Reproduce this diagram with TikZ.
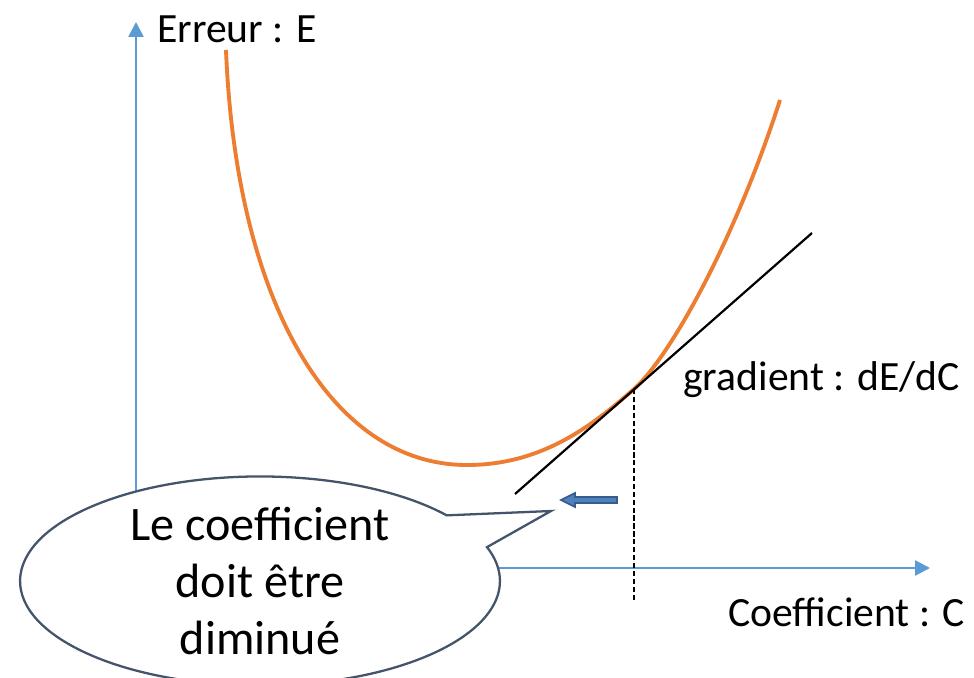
\documentclass[tikz,border=0pt]{standalone}
\usepackage{fontspec}
\setmainfont{Carlito}
\usepackage{tikz}
\usetikzlibrary{arrows.meta,positioning,shapes.callouts,calc}
\definecolor{axisblue}{RGB}{91,155,213}
\definecolor{curveorange}{RGB}{237,125,49}
\definecolor{slate}{RGB}{68,84,106}
\definecolor{arrowfill}{RGB}{79,129,189}
\definecolor{arrowline}{RGB}{56,93,138}

\begin{document}
\begin{tikzpicture}[
  x=0.02cm, y=-0.02cm,
  every node/.style={font=\fontsize{23.7}{28}\selectfont},
  axis/.style={draw=axisblue, line width=1.4pt, -{Triangle[length=8.5pt,width=8.5pt]}},
  label/.style={anchor=west, inner sep=0pt},
  bubble/.style={ellipse callout, draw=slate, line width=1.3pt, fill=white, align=center, inner sep=0pt,
    minimum width=9.6cm, minimum height=3.8cm, font=\fontsize{27.4}{32.5}\selectfont}
]
\useasboundingbox (0,0) rectangle (974,678);

% axes
\coordinate (o) at (136,568);
\coordinate (ytop) at (136,22);
\coordinate (xend) at (930,568);
\draw[axis] (o) -- (ytop);
\draw[axis] (o) -- (xend);
\node[label] (ylab) at (157,29) {Erreur : E};
\node[label] (xlab) at (728,612) {Coefficient : C};

% error curve
\coordinate (cstart) at (226,50);
\coordinate (cmin) at (467,465);
\coordinate (p) at (634,389);
\coordinate (cend) at (780,100);
\draw[curveorange, line width=2.2pt]
  (cstart) .. controls (236,300) and (330,465) .. (cmin)
           .. controls (540,465) and (590,428) .. (p)
           .. controls (670,357) and (735,240) .. (cend);

% tangent at the current point
\coordinate (t1) at (515,494);
\coordinate (t2) at (812,233);
\coordinate (pfoot) at (634,602);
\draw[line width=1.25pt] (t1) -- (t2);
\draw[line width=1.25pt, dash pattern=on 3pt off 1.5pt] (p) -- (pfoot);
\node[label] (glab) at (683,380) {gradient : dE/dC};

% direction of change
\filldraw[fill=arrowfill, draw=arrowline, line width=1pt]
  (617,497) -- (575,497) -- (575,493) -- (561,500) -- (575,507) -- (575,503) -- (617,503) -- cycle;

% callout
\coordinate (tip) at (551,511);
\node[bubble, callout absolute pointer=(tip), callout pointer arc=20] (msg) at (260,581)
  {Le coefficient\\doit être\\diminué};
\end{tikzpicture}
\end{document}
